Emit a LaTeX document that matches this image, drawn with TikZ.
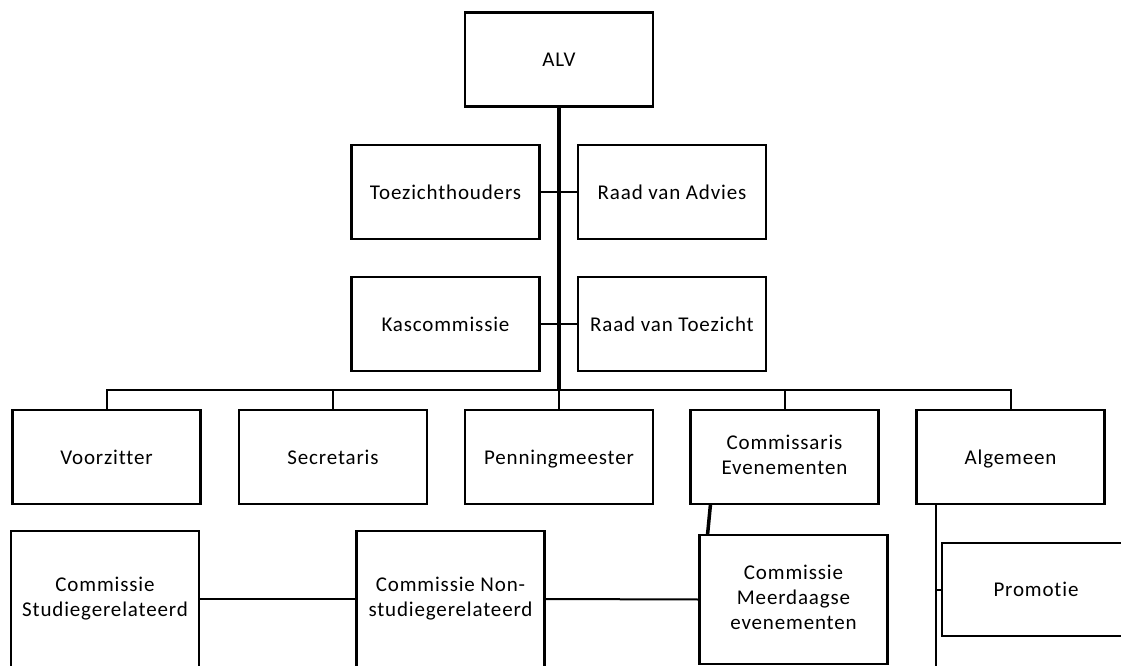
\documentclass[tikz,border=0pt]{standalone}
\usepackage{fontspec}
\setmainfont{Carlito}[LetterSpace=4,Ligatures=NoCommon]

\begin{document}
\begin{tikzpicture}[x=1pt,y=-1pt,
    every node/.style={draw,outer sep=0pt,line width=2.5pt,minimum width=188pt,minimum height=94pt,inner sep=0pt,align=center,font=\fontsize{21}{25}\selectfont,
        execute at begin node=\rule{0pt}{18pt},execute at end node=\rule[-4pt]{0pt}{4pt}},
    link/.style={line width=2pt}]
    \useasboundingbox (0,0) rectangle (1121,666);
    \clip (0,0) rectangle (1121,666);

    \node (alv) at (559,59.5) {ALV};

    % toezicht en advies
    \node (toezicht) at (445.5,192) {Toezichthouders};
    \node (advies) at (672,192) {Raad van Advies};
    \node (kas) at (445.5,324) {Kascommissie};
    \node (raad) at (672,324) {Raad van Toezicht};

    % bestuur
    \node (voorzitter) at (106.5,457) {Voorzitter};
    \node (secretaris) at (333,457) {Secretaris};
    \node (penning) at (559,457) {Penningmeester};
    \node (commev) at (784.5,457) {Commissaris\\Evenementen};
    \node (algemeen) at (1010.5,457) {Algemeen};

    % commissies
    \node[minimum height=136pt] (studie) at (105,599) {Commissie\\Studiegerelateerd};
    \node[minimum height=136pt] (nonstudie) at (450.5,599) {Commissie Non-\\studiegerelateerd};
    \node[minimum height=129pt] (meerdaags) at (793.5,599.5) {Commissie\\Meerdaagse\\evenementen};
    \node[minimum height=93pt] (promotie) at (1036,589.5) {Promotie};

    \coordinate (bus) at (559,390);
    \coordinate (algfoot) at (936,670);

    \draw[line width=4pt] (alv.south) -- (bus);
    \draw[link] (toezicht.east) -- (advies.west);
    \draw[link] (kas.east) -- (raad.west);
    \draw[link] (voorzitter.north) |- (algemeen.north |- bus) -- (algemeen.north);
    \foreach \n in {secretaris,penning,commev}
        \draw[link] (\n.north) -- (\n.north |- bus);

    \draw[link] (studie.east) -- (nonstudie.west);
    \draw[link] (nonstudie.east) -- (meerdaags.west);
    \draw[line width=3.5pt] ([xshift=20pt]commev.south west) -- ([xshift=8pt]meerdaags.north west);
    \draw[link] (algemeen.south -| algfoot) -- (algfoot);
    \draw[link] (promotie.west -| algfoot) -- (promotie.west);
\end{tikzpicture}
\end{document}
